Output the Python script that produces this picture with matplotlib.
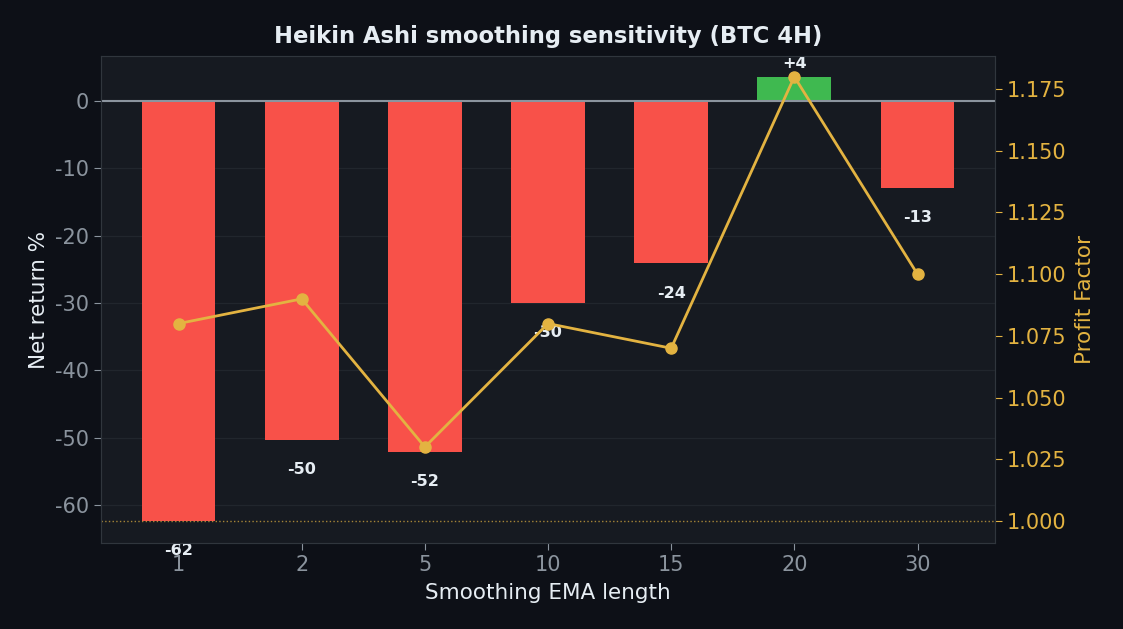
import matplotlib
matplotlib.use("Agg")
import matplotlib.pyplot as plt
import numpy as np

plt.rcParams["axes.unicode_minus"] = False

categories = ["1", "2", "5", "10", "15", "20", "30"]
net_return = [-62.4, -50.3, -52.1, -30.0, -24.1, 3.6, -12.9]
bar_labels = ["-62", "-50", "-52", "-30", "-24", "+4", "-13"]
profit_factor = [1.08, 1.09, 1.03, 1.08, 1.07, 1.18, 1.10]

BG = "#0d1017"
AX_BG = "#161a21"
RED = "#f85149"
GREEN = "#3fb950"
GOLD = "#e3b341"
TXT = "#e6edf3"
MUTED = "#8b949e"
SPINE = "#30363d"

fig = plt.figure(figsize=(11.23, 6.29), dpi=100, facecolor=BG)
ax = fig.add_axes([0.0899, 0.1367, 0.7962, 0.7743])
ax.set_facecolor(AX_BG)

x = np.arange(len(categories))
colors = [GREEN if v >= 0 else RED for v in net_return]
ax.bar(x, net_return, width=0.6, color=colors, zorder=2)
ax.axhline(0, color=MUTED, lw=1.5, zorder=3)

for xi, v, lab in zip(x, net_return, bar_labels):
    if v >= 0:
        ax.text(xi, v + 0.9, lab, ha="center", va="bottom", color=TXT,
                fontsize=11.5, fontweight="bold", zorder=4)
    else:
        ax.text(xi, v - 3.3, lab, ha="center", va="top", color=TXT,
                fontsize=11.5, fontweight="bold", zorder=4)

ax.set_ylim(-65.65, 6.7)
ax.set_xticks(x)
ax.set_xticklabels(categories)
ax.set_yticks([0, -10, -20, -30, -40, -50, -60])
ax.yaxis.grid(True, color="#21262d", lw=0.9, zorder=0)
ax.set_axisbelow(True)
ax.tick_params(axis="both", colors=MUTED, labelsize=15, length=5)
ax.set_xlabel("Smoothing EMA length", color=TXT, fontsize=15.5, labelpad=6)
ax.set_ylabel("Net return %", color=TXT, fontsize=15.5)
ax.set_title("Heikin Ashi smoothing sensitivity (BTC 4H)", color=TXT,
             fontsize=16.3, fontweight="bold", pad=9)
for s in ax.spines.values():
    s.set_color(SPINE)

ax2 = ax.twinx()
ax2.plot(x, profit_factor, color=GOLD, lw=2, marker="o", markersize=8, zorder=5)
ax2.axhline(1.0, color=GOLD, lw=1, ls=":", alpha=0.7)
ax2.set_ylim(0.9911, 1.1884)
pf_ticks = [1.000, 1.025, 1.050, 1.075, 1.100, 1.125, 1.150, 1.175]
ax2.set_yticks(pf_ticks)
ax2.set_yticklabels([f"{t:.3f}" for t in pf_ticks])
ax2.tick_params(axis="y", colors=GOLD, labelsize=15, length=5)
ax2.set_ylabel("Profit Factor", color=GOLD, fontsize=15.5, labelpad=6)
for s in ax2.spines.values():
    s.set_color(SPINE)

fig.savefig("out.png", dpi=100, facecolor=BG)
